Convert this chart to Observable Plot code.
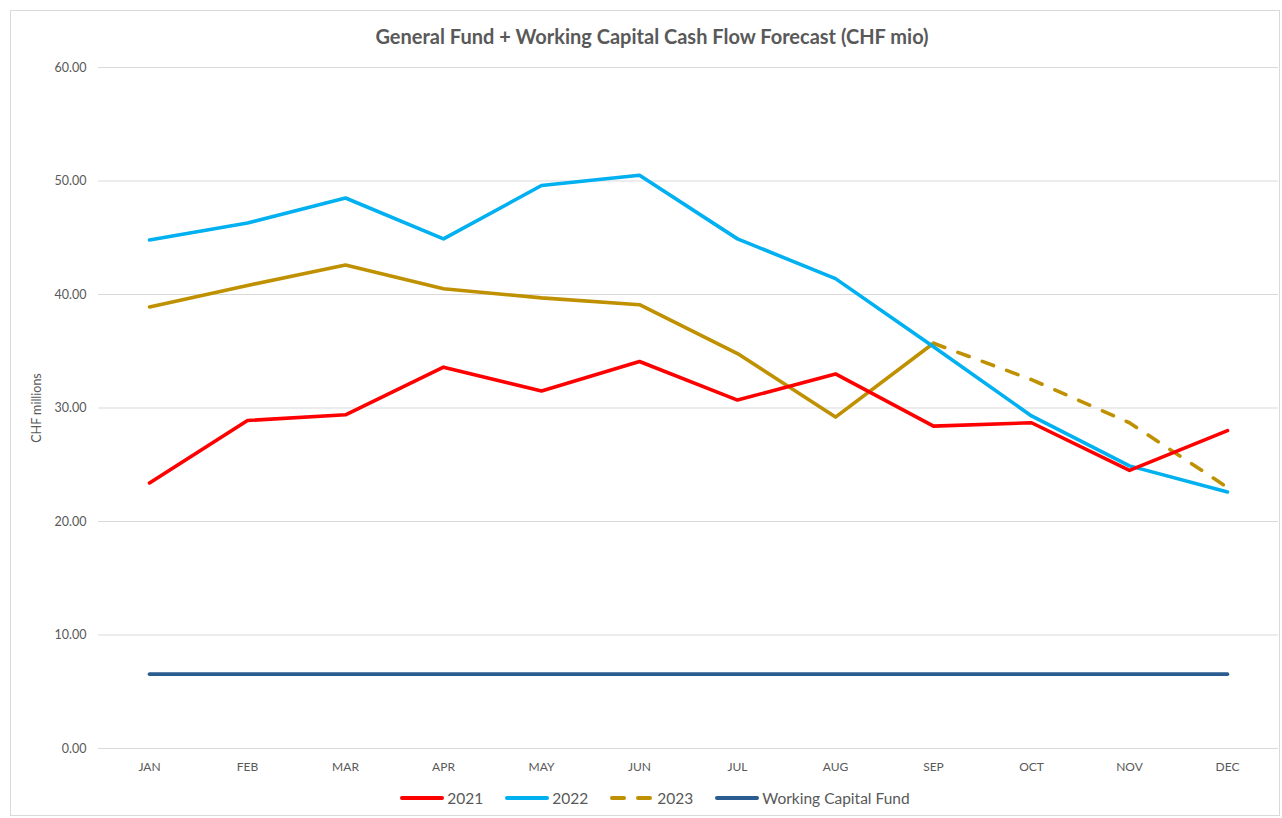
<!DOCTYPE html>
<html>
<head>
<meta charset="utf-8">
<script src="https://cdn.jsdelivr.net/npm/d3@7"></script>
<script src="https://cdn.jsdelivr.net/npm/@observablehq/plot@0.6"></script>
<style>
  html, body { margin: 0; padding: 0; background: #fff; }
  body { width: 1282px; height: 818px; position: relative; overflow: hidden; font-family: Lato, "Open Sans", sans-serif; color: #595959; }
  #frame { position: absolute; left: 10px; top: 10px; width: 1270px; height: 806px; border: 1px solid #d9d9d9; box-sizing: border-box; }
  #title { position: absolute; left: 0; top: 24px; width: 1304px; text-align: center; font-size: 20px; font-weight: bold; color: #595959; }
  #chart { position: absolute; left: 0; top: 55px; }
  #legend { position: absolute; left: 0; top: 789px; width: 1310px; display: flex; justify-content: center; align-items: center; font-size: 15.5px; color: #595959; }
  .item { display: flex; align-items: center; margin: 0 11px; }
  .item svg { margin-right: 3px; }
</style>
</head>
<body>
<div id="frame"></div>
<div id="title">General Fund + Working Capital Cash Flow Forecast (CHF mio)</div>
<div id="chart"></div>
<div id="legend"></div>
<script>
const months = ["JAN","FEB","MAR","APR","MAY","JUN","JUL","AUG","SEP","OCT","NOV","DEC"];
const v2021 = [23.4, 28.9, 29.4, 33.6, 31.5, 34.1, 30.7, 33.0, 28.4, 28.7, 24.5, 28.0];
const v2022 = [44.8, 46.3, 48.5, 44.9, 49.6, 50.5, 44.9, 41.4, 35.4, 29.3, 24.9, 22.6];
const v2023Actual = [38.9, 40.8, 42.6, 40.5, 39.7, 39.1, 34.8, 29.2, 35.7];
const v2023ForecastMonths = ["SEP","OCT","NOV","DEC"];
const v2023Forecast = [35.7, 32.5, 28.7, 23.0];
const vWCF = [6.55, 6.55, 6.55, 6.55, 6.55, 6.55, 6.55, 6.55, 6.55, 6.55, 6.55, 6.55];
const yTicks = [0, 10, 20, 30, 40, 50, 60];

const colors = {"2021": "#FF0000", "2022": "#00B0F0", "2023": "#BF9000", "Working Capital Fund": "#2A5C8F"};
const dash = "12,14";

const toRows = (ms, vs, series) => ms.map((m, i) => ({month: m, value: vs[i], series}));
const r2021 = toRows(months, v2021, "2021");
const r2022 = toRows(months, v2022, "2022");
const r2023a = toRows(months.slice(0, v2023Actual.length), v2023Actual, "2023");
const r2023f = toRows(v2023ForecastMonths, v2023Forecast, "2023");
const rWCF = toRows(months, vWCF, "Working Capital Fund");

const lineOpts = (c, extra = {}) => ({x: "month", y: "value", stroke: c, strokeWidth: 3.6, strokeLinecap: "round", strokeLinejoin: "round", ...extra});

const chart = Plot.plot({
  width: 1282,
  height: 725,
  marginLeft: 98,
  marginRight: 4,
  marginTop: 12,
  marginBottom: 32,
  style: {fontFamily: "Lato, 'Open Sans', sans-serif", fontSize: "12px", color: "#595959", background: "transparent"},
  x: {type: "point", domain: months, padding: 0.5, label: null},
  y: {domain: [0, 60], label: null},
  marks: [
    Plot.gridY(yTicks, {stroke: "#d9d9d9", strokeOpacity: 1, strokeWidth: 1}),
    Plot.axisY(yTicks, {tickSize: 0, tickPadding: 12, tickFormat: d => d.toFixed(2), label: "CHF millions", labelAnchor: "center", labelArrow: "none", labelOffset: 66, fill: "#595959", fontSize: "12.5px"}),
    Plot.axisX({tickSize: 0, tickPadding: 14, fill: "#595959", fontSize: "12px"}),
    Plot.lineY(rWCF, lineOpts(colors["Working Capital Fund"])),
    Plot.lineY(r2023a, lineOpts(colors["2023"])),
    Plot.lineY(r2023f, lineOpts(colors["2023"], {strokeDasharray: dash})),
    Plot.lineY(r2022, lineOpts(colors["2022"])),
    Plot.lineY(r2021, lineOpts(colors["2021"]))
  ]
});
document.getElementById("chart").appendChild(chart);

const legend = document.getElementById("legend");
const items = [["2021", false], ["2022", false], ["2023", true], ["Working Capital Fund", false]];
for (const [name, dashed] of items) {
  const div = document.createElement("div");
  div.className = "item";
  const w = 44;
  div.innerHTML = `<svg width="${w}" height="10"><line x1="2" y1="5" x2="${w - 2}" y2="5" stroke="${colors[name]}" stroke-width="4" stroke-linecap="round" ${dashed ? `stroke-dasharray="${dash}"` : ""}/></svg><span>${name}</span>`;
  legend.appendChild(div);
}
</script>
</body>
</html>
